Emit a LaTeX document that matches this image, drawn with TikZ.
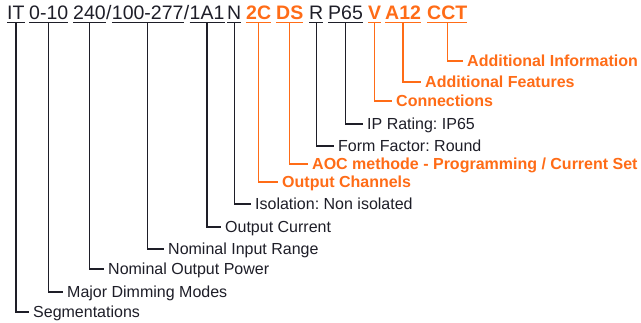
\documentclass[tikz,border=0pt]{standalone}
\usepackage{fontspec}
\setmainfont{Liberation Sans}
\usepackage{xcolor}
\usetikzlibrary{positioning}
\frenchspacing
\definecolor{ink}   {HTML}{1E1E28}
\definecolor{accent}{HTML}{FF6C17}
\tikzset{
  tok/.style   ={anchor=base west, inner xsep=0pt, inner ysep=2.5pt,
                 text height=14pt, text depth=0pt, text=ink,
                 font=\fontsize{19.5}{22}\selectfont},
  otok/.style  ={tok, text=accent, font=\fontsize{19.5}{22}\selectfont\bfseries},
  lab/.style   ={anchor=west, inner xsep=4pt, inner ysep=0pt,
                 text height=11.5pt, text depth=0pt, text=ink,
                 font=\fontsize{16}{19}\selectfont},
  olab/.style  ={lab, text=accent, font=\fontsize{16}{19}\selectfont\bfseries},
  uline/.style ={line width=1.1pt, draw=ink},
  ouline/.style={line width=1.1pt, draw=accent},
  lead/.style  ={line width=1.3pt, draw=ink},
  olead/.style ={line width=1.3pt, draw=accent},
}
\begin{document}
\begin{tikzpicture}[x=1pt,y=-1pt]
  \useasboundingbox[fill=white] (0,0) rectangle (641,322);
  % code tokens
  \node[tok]  (it)   at (7,19.5)   {IT};
  \node[tok]  (dim)  at (29,19.5)  {0-10};
  \node[tok]  (pow)  at (73,19.5)  {240};
  \node[tok,right=0pt of pow]   (sla) {/};
  \node[tok,right=0pt of sla]   (rng) {100-277};
  \node[tok,right=0pt of rng]   (slb) {/};
  \node[tok,right=0pt of slb]   (cur) {1A1};
  \node[tok]  (iso)  at (227,19.5) {N};
  \node[otok] (ch)   at (246,19.5) {2C};
  \node[otok] (aoc)  at (276,19.5) {DS};
  \node[tok]  (ff)   at (309,19.5) {R};
  \node[tok]  (ip)   at (328,19.5) {P65};
  \node[otok] (con)  at (368,19.5) {V};
  \node[otok] (feat) at (385,19.5) {A12};
  \node[otok] (info) at (427,19.5) {CCT};

  % labels
  \node[olab] (infol) at (463,61)  {Additional Information};
  \node[olab] (featl) at (421,82)  {Additional Features};
  \node[olab] (conl)  at (392,101) {Connections};
  \node[lab]  (ipl)   at (363,124) {IP Rating: IP65};
  \node[lab]  (ffl)   at (334,146) {Form Factor: Round};
  \node[olab] (aocl)  at (308,164) {AOC methode - Programming / Current Set};
  \node[olab] (chl)   at (278,182) {Output Channels};
  \node[lab]  (isol)  at (251,204) {Isolation: Non isolated};
  \node[lab]  (curl)  at (221,227) {Output Current};
  \node[lab]  (rngl)  at (164,249) {Nominal Input Range};
  \node[lab]  (powl)  at (104,269) {Nominal Output Power};
  \node[lab]  (diml)  at (63,292)  {Major Dimming Modes};
  \node[lab]  (itl)   at (29,312)  {Segmentations};

  % underlines
  \foreach \t in {it,dim,pow,rng,cur,iso,ff,ip}
    \draw[uline] (\t.south west) -- (\t.south east);
  \foreach \t in {ch,aoc,con,feat,info}
    \draw[ouline] (\t.south west) -- (\t.south east);

  % leaders
  \foreach \t in {it,dim,pow,rng,cur,iso,ff,ip}
    \draw[lead] (\t.south) |- (\t l.west);
  \foreach \t in {ch,aoc,con,feat,info}
    \draw[olead] (\t.south) |- (\t l.west);
\end{tikzpicture}
\end{document}
